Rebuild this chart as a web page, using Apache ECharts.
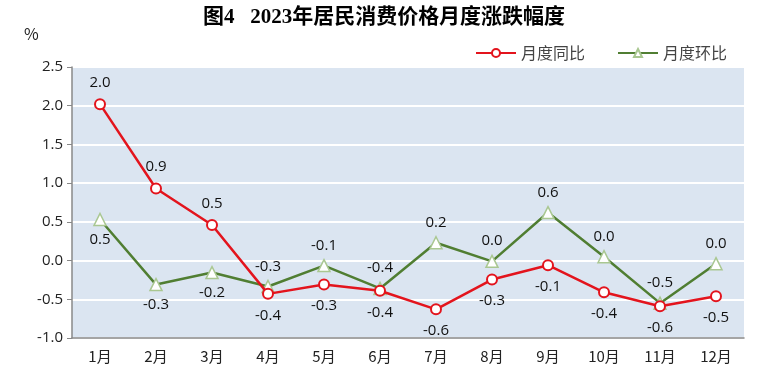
<!DOCTYPE html>
<html><head><meta charset="utf-8">
<script src="https://cdn.jsdelivr.net/npm/echarts@6/dist/echarts.min.js"></script>
<style>html,body{margin:0;padding:0;background:#fff}#c{width:768px;height:381px}</style>
</head><body><div id="c"></div>
<script>
const categories = ['1月','2月','3月','4月','5月','6月','7月','8月','9月','10月','11月','12月'];
const yoyValues = [2.02, 0.93, 0.46, -0.43, -0.31, -0.39, -0.63, -0.245, -0.06, -0.41, -0.59, -0.46];
const yoyLabels = ['2.0','0.9','0.5','-0.4','-0.3','-0.4','-0.6','-0.3','-0.1','-0.4','-0.6','-0.5'];
const momValues = [0.53, -0.31, -0.155, -0.335, -0.065, -0.36, 0.23, -0.01, 0.62, 0.05, -0.55, -0.04];
const momLabels = ['0.5','-0.3','-0.2','-0.3','-0.1','-0.4','0.2','0.0','0.6','0.0','-0.5','0.0'];
const yTicks = {min: -1.0, max: 2.5, interval: 0.5};

function build(vals, labels, other) {
  return vals.map((v, i) => ({
    value: v,
    label: { formatter: labels[i], position: v >= other[i] ? 'top' : 'bottom' }
  }));
}
const chart = echarts.init(document.getElementById('c'));
const fontCJK = '"Noto Sans CJK SC", "Liberation Sans", sans-serif';
const fontNum = '"Open Sans", sans-serif';
chart.setOption({
  animation: false,
  title: {
    text: '图4   2023年居民消费价格月度涨跌幅度',
    left: 'center', top: 2,
    textStyle: { fontFamily: '"Liberation Serif", "Noto Sans CJK SC", serif', fontWeight: 'bold', fontSize: 21, color: '#000' }
  },
  graphic: [{ type: 'text', left: 24, top: 26, style: { text: '%', fontSize: 16, fill: '#222', fontFamily: fontCJK } }],
  legend: {
    right: 36, top: 40, itemGap: 32, itemWidth: 40, itemHeight: 10,
    textStyle: { fontSize: 16, color: '#444', fontFamily: fontCJK },
    data: ['月度同比', '月度环比']
  },
  grid: { left: 72, right: 24, top: 67, bottom: 43, show: true, backgroundColor: '#dbe5f1', borderWidth: 0 },
  xAxis: {
    type: 'category', data: categories, boundaryGap: true,
    axisLine: { onZero: false, lineStyle: { color: '#888', width: 1.5 } },
    axisTick: { inside: true, length: 6, lineStyle: { color: '#888' } },
    axisLabel: { color: '#222', fontSize: 15, margin: 11, fontFamily: fontCJK }
  },
  yAxis: {
    type: 'value', min: yTicks.min, max: yTicks.max, interval: yTicks.interval,
    axisLine: { show: true, lineStyle: { color: '#888', width: 1.5 } },
    axisTick: { show: true, length: 5, lineStyle: { color: '#888' } },
    axisLabel: { color: '#222', fontSize: 15, margin: 9, formatter: v => v.toFixed(1), fontFamily: fontNum },
    splitLine: { lineStyle: { color: '#fff', width: 2 } }
  },
  series: [
    {
      name: '月度同比', type: 'line', data: build(yoyValues, yoyLabels, momValues),
      symbol: 'circle', symbolSize: 10, z: 3,
      lineStyle: { color: '#e3141d', width: 2.5 },
      itemStyle: { color: '#fff', borderColor: '#e3141d', borderWidth: 2 },
      label: { show: true, fontSize: 15, color: '#111', distance: 8, fontFamily: fontNum }
    },
    {
      name: '月度环比', type: 'line', data: build(momValues, momLabels, yoyValues),
      symbol: 'triangle', symbolSize: 12, z: 2,
      lineStyle: { color: '#507e32', width: 2.5 },
      itemStyle: { color: '#fff', borderColor: '#a9c791', borderWidth: 1.5 },
      label: { show: true, fontSize: 15, color: '#111', distance: 6, fontFamily: fontNum }
    }
  ]
});
</script></body></html>
